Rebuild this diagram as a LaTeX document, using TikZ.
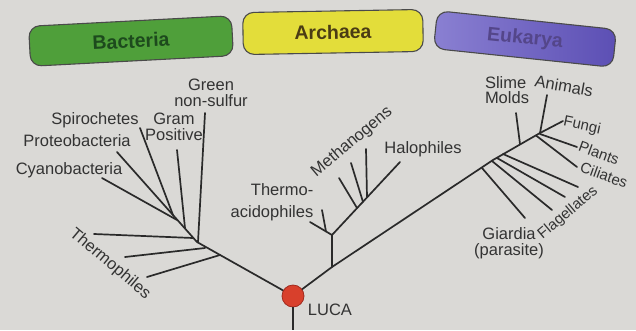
\documentclass[tikz,border=0pt]{standalone}
\usepackage{fontspec}
\setmainfont{Liberation Sans}
\definecolor{bgc}{HTML}{DAD9D6}
\definecolor{linec}{HTML}{2A2A2A}
\definecolor{textc}{HTML}{333333}
\definecolor{boxb}{HTML}{4A4A4A}
\definecolor{bactf}{HTML}{4F9F3A}
\definecolor{bactt}{HTML}{1D4A1D}
\definecolor{archf}{HTML}{E3DD3A}
\definecolor{archt}{HTML}{4A3C14}
\definecolor{eukl}{HTML}{8A80D2}
\definecolor{eukr}{HTML}{5C4FB4}
\definecolor{eukt}{HTML}{54468A}
\definecolor{lucaf}{HTML}{D8402C}
\definecolor{lucab}{HTML}{A02A1E}
\begin{document}
\begin{tikzpicture}[x=1pt,y=-1pt,
  br/.style={line width=1.7pt, draw=linec, line cap=round},
  lbl/.style={font=\fontsize{16.5}{15.5}\selectfont, text=textc, inner sep=0pt},
  sml/.style={font=\fontsize{15}{15}\selectfont, text=textc, inner sep=0pt},
  dom/.style={draw=boxb, line width=1.1pt, rounded corners=11pt, minimum height=40pt, inner sep=0pt, font=\bfseries\fontsize{19.5}{22}\selectfont}]
\fill[bgc] (0,0) rectangle (636,330);
\useasboundingbox (0,0) rectangle (636,330);
% domain boxes
\node[dom, fill=bactf, text=bactt, minimum width=203pt, rotate=3] (bact) at (131,41) {Bacteria};
\node[dom, fill=archf, text=archt, minimum width=180pt, minimum height=42pt, rotate=1] (arch) at (333,32) {Archaea};
\node[dom, left color=eukl, right color=eukr, text=eukt, minimum width=180pt, minimum height=38pt, rotate=-6] (euk) at (525,39) {Eukarya};
% coordinates
\coordinate (lc) at (293,296);
\coordinate (root) at (293,330);
% bacteria
\coordinate (bj1) at (197,242);
\coordinate (bt) at (173,215);
\coordinate (th1a) at (220,255);
\coordinate (th1b) at (147,277);
\coordinate (th2a) at (205,248);
\coordinate (th2b) at (125,257);
\coordinate (th3a) at (193,238);
\coordinate (th3b) at (94,234);
\coordinate (gnsa) at (198,242);
\coordinate (gnsb) at (205,113);
\coordinate (gpa) at (185,228);
\coordinate (gpb) at (177,150);
\coordinate (spb) at (140,128);
\coordinate (prb) at (117,152);
\coordinate (cya) at (177,220);
\coordinate (cyb) at (102,178);
% archaea / eukarya trunk
\coordinate (a0) at (332,267);
\coordinate (ej) at (493,160);
\coordinate (et) at (540,133);
\coordinate (as) at (332,235);
\coordinate (ta1) at (310,222);
\coordinate (ta2a) at (326,231.5);
\coordinate (ta2b) at (322,210);
\coordinate (hal) at (400,162);
\coordinate (m1a) at (357,208);
\coordinate (m1b) at (339,178);
\coordinate (m2a) at (363,202);
\coordinate (m2b) at (351,163);
\coordinate (m3a) at (367,197);
\coordinate (m3b) at (366,149);
% eukarya
\coordinate (gia) at (482,168);
\coordinate (gib) at (525,218);
\coordinate (f3a) at (492,161);
\coordinate (f3b) at (552,210);
\coordinate (f2a) at (497,158);
\coordinate (f2b) at (565,197);
\coordinate (f1a) at (503,154);
\coordinate (f1b) at (578,187);
\coordinate (sma) at (520,144);
\coordinate (smb) at (516,113);
\coordinate (cia) at (536,135.5);
\coordinate (cib) at (577,167);
\coordinate (pla) at (540,134);
\coordinate (plb) at (577,147);
\coordinate (anb) at (547,95);
\coordinate (fub) at (563,121);
% branches
\draw[br] (lc) -- (bj1) -- (bt);
\draw[br] (th1a) -- (th1b);
\draw[br] (th2a) -- (th2b);
\draw[br] (th3a) -- (th3b);
\draw[br] (gnsa) -- (gnsb);
\draw[br] (gpa) -- (gpb);
\draw[br] (bt) -- (spb);
\draw[br] (bt) -- (prb);
\draw[br] (cya) -- (cyb);
\draw[br] (lc) -- (a0) -- (ej) -- (et);
\draw[br] (a0) -- (as) -- (hal);
\draw[br] (as) -- (ta1);
\draw[br] (ta2a) -- (ta2b);
\draw[br] (m1a) -- (m1b);
\draw[br] (m2a) -- (m2b);
\draw[br] (m3a) -- (m3b);
\draw[br] (gia) -- (gib);
\draw[br] (f3a) -- (f3b);
\draw[br] (f2a) -- (f2b);
\draw[br] (f1a) -- (f1b);
\draw[br] (sma) -- (smb);
\draw[br] (cia) -- (cib);
\draw[br] (pla) -- (plb);
\draw[br] (et) -- (anb);
\draw[br] (et) -- (fub);
% LUCA
\node[circle, fill=lucaf, draw=lucab, line width=0.8pt, minimum size=22pt, inner sep=0pt] (luca) at (lc) {};
\draw[br, line cap=butt] (luca) -- (root);
% labels
\node[lbl] (cyano) at (69,170) {Cyanobacteria};
\node[lbl] (proteo) at (77,141) {Proteobacteria};
\node[lbl] (spiro) at (95,120) {Spirochetes};
\node[lbl, align=center] (gram) at (174,127) {Gram\\Positive};
\node[lbl, align=center] (green) at (211,93) {Green\\non-sulfur};
\node[lbl, rotate=-40] (thermo) at (110,264) {Thermophiles};
\node[lbl, align=right, font=\fontsize{16.5}{22}\selectfont] (tacid) at (272,202) {Thermo-\\acidophiles};
\node[lbl, rotate=40] (meth) at (352,142) {Methanogens};
\node[lbl] (halo) at (423,149) {Halophiles};
\node[lbl, align=left] (slime) at (507,90) {Slime\\Molds};
\node[lbl, rotate=-10] (anim) at (564,86) {Animals};
\node[sml, rotate=-12] (fungi) at (582,126) {Fungi};
\node[sml, rotate=-20] (plants) at (599,153) {Plants};
\node[sml, rotate=-20] (cil) at (604,175) {Ciliates};
\node[sml, rotate=40] (flag) at (568,213) {Flagellates};
\node[lbl, align=center] (giar) at (509,243) {Giardia\\(parasite)};
\node[lbl] (lucal) at (330,310) {LUCA};
\end{tikzpicture}
\end{document}
